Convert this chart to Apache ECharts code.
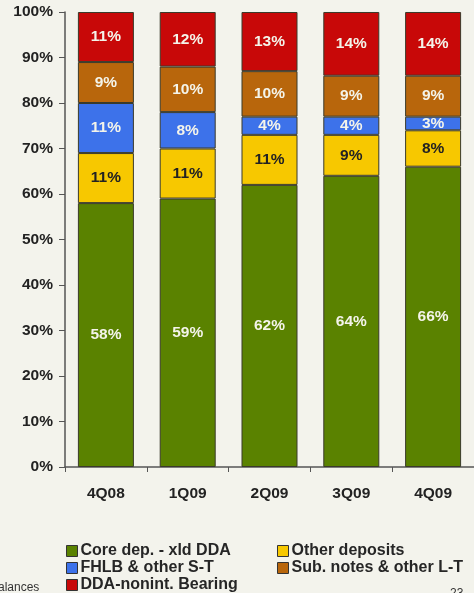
<!DOCTYPE html>
<html>
<head>
<meta charset="utf-8">
<script src="https://cdn.jsdelivr.net/npm/echarts@6/dist/echarts.min.js"></script>
<style>
html,body{margin:0;padding:0;background:#f3f3ec;}
#chart{width:474px;height:593px;}
</style>
</head>
<body>
<div id="chart"></div>
<script>
const categories = ['4Q08', '1Q09', '2Q09', '3Q09', '4Q09'];
const seriesNames = ['Core dep. - xld DDA', 'Other deposits', 'FHLB & other S-T', 'Sub. notes & other L-T', 'DDA-nonint. Bearing'];
const coreDep = [58, 59, 62, 64, 66];
const otherDeposits = [11, 11, 11, 9, 8];
const fhlb = [11, 8, 4, 4, 3];
const subNotes = [9, 10, 10, 9, 9];
const ddaNonint = [11, 12, 13, 14, 14];
const yTicks = [0, 10, 20, 30, 40, 50, 60, 70, 80, 90, 100];

const colors = ['#5a8200', '#f7c800', '#3d72ea', '#b8660c', '#c80808'];
const labelColors = ['#f4f4ea', '#222222', '#f4f4ea', '#f4f4ea', '#f4f4ea'];
const values = [coreDep, otherDeposits, fhlb, subNotes, ddaNonint];

const chart = echarts.init(document.getElementById('chart'));
const font = '"Liberation Sans", Arial, sans-serif';

const series = seriesNames.map((name, i) => ({
  name: name,
  type: 'bar',
  stack: 'total',
  barWidth: 56,
  data: values[i],
  itemStyle: { color: colors[i], borderColor: '#3a3a2a', borderWidth: 1 },
  label: {
    show: true,
    position: 'inside',
    formatter: '{c}%',
    color: labelColors[i],
    fontFamily: font,
    fontWeight: 'bold',
    fontSize: 15.5
  }
}));

const legendBase = {
  orient: 'vertical', top: 538, height: 80, itemGap: 1,
  itemWidth: 11, itemHeight: 11, icon: 'rect',
  itemStyle: { borderColor: '#333', borderWidth: 1 },
  textStyle: { color: '#262626', fontFamily: font, fontWeight: 'bold', fontSize: 16, padding: [0, 0, 0, -2] }
};

chart.setOption({
  backgroundColor: '#f3f3ec',
  animation: false,
  grid: { left: 65, right: 0, top: 12, bottom: 126 },
  xAxis: {
    type: 'category',
    data: categories,
    axisLine: { lineStyle: { color: '#555', width: 1.5 } },
    axisTick: { show: true, length: 5, lineStyle: { color: '#555' } },
    axisLabel: { color: '#222', fontFamily: font, fontWeight: 'bold', fontSize: 15.5, margin: 19 }
  },
  yAxis: {
    type: 'value',
    min: 0, max: 100, interval: 10,
    axisLine: { show: true, lineStyle: { color: '#555', width: 1.5 } },
    axisTick: { show: true, length: 6, inside: false, lineStyle: { color: '#555' } },
    splitLine: { show: false },
    axisLabel: {
      color: '#222', fontFamily: font, fontWeight: 'bold', fontSize: 15.5, margin: 12,
      formatter: v => yTicks.includes(v) ? v + '%' : ''
    }
  },
  legend: [
    Object.assign({}, legendBase, { left: 61, data: [seriesNames[0], seriesNames[2], seriesNames[4]] }),
    Object.assign({}, legendBase, { left: 272, data: [seriesNames[1], seriesNames[3]] })
  ],
  graphic: [
    { type: 'text', left: -2, top: 582, style: { text: 'alances', fontFamily: font, fontSize: 12, fill: '#333' } },
    { type: 'text', left: 450, top: 588, style: { text: '23', fontFamily: font, fontSize: 12, fill: '#333' } }
  ],
  series: series
});
</script>
</body>
</html>
